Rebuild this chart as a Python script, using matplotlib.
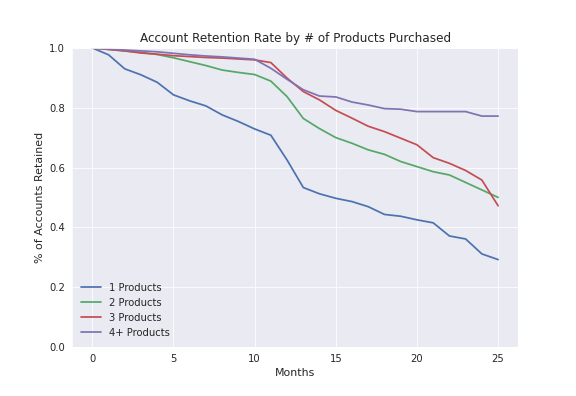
import matplotlib
matplotlib.use("Agg")
import matplotlib.pyplot as plt
import seaborn as sns

# meses y tasas de retencion
months = list(range(26))
one_product = [1.0, 0.977, 0.93, 0.91, 0.885, 0.843, 0.823, 0.806, 0.776, 0.754,
               0.729, 0.708, 0.625, 0.533, 0.512, 0.497, 0.486, 0.469, 0.443, 0.437,
               0.425, 0.415, 0.371, 0.361, 0.311, 0.292]
two_products = [1.0, 0.995, 0.99, 0.985, 0.978, 0.967, 0.954, 0.941, 0.926, 0.918,
                0.911, 0.889, 0.837, 0.764, 0.73, 0.7, 0.681, 0.659, 0.644, 0.62,
                0.603, 0.586, 0.575, 0.55, 0.525, 0.5]
three_products = [1.0, 0.995, 0.99, 0.983, 0.979, 0.974, 0.971, 0.968, 0.966, 0.963,
                  0.96, 0.951, 0.899, 0.854, 0.826, 0.791, 0.765, 0.738, 0.72, 0.698,
                  0.676, 0.633, 0.614, 0.59, 0.558, 0.472]
four_products = [1.0, 0.997, 0.993, 0.99, 0.987, 0.982, 0.977, 0.973, 0.97, 0.966,
                 0.962, 0.932, 0.895, 0.86, 0.839, 0.836, 0.819, 0.809, 0.797, 0.795,
                 0.787, 0.787, 0.787, 0.787, 0.772, 0.772]
labels = ["1 Products", "2 Products", "3 Products", "4+ Products"]
colors = ["#4C72B0", "#55A868", "#C44E52", "#8172B2"]

sns.set_style("darkgrid")
plt.rcParams["font.family"] = ["DejaVu Sans"]

fig, ax = plt.subplots(figsize=(8, 5.5), dpi=72)
fig.subplots_adjust(left=0.125, right=0.9, bottom=0.124, top=0.879)

for serie, lab, col in zip([one_product, two_products, three_products, four_products], labels, colors):
    ax.plot(months, serie, color=col, linewidth=1.75, label=lab)

ax.set_ylim(0, 1.0)
ax.set_xticks([0, 5, 10, 15, 20, 25])
ax.set_yticks([0.0, 0.2, 0.4, 0.6, 0.8, 1.0])
ax.tick_params(labelsize=10, colors=".15")
ax.set_xlabel("Months", fontsize=11, color=".15")
ax.set_ylabel("% of Accounts Retained", fontsize=11, color=".15")
ax.set_title("Account Retention Rate by # of Products Purchased", fontsize=12, color=".15")
ax.legend(loc="lower left", frameon=False, fontsize=10)

fig.savefig("out.png", dpi=72)
